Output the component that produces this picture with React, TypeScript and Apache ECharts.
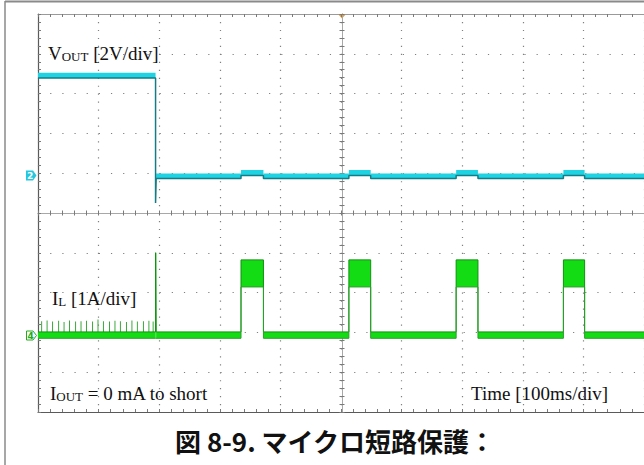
import React, { useEffect, useRef } from "react";
import * as echarts from "echarts";

// Time axis: 100 ms/div, 10 divisions
const timeTicksMs = [0, 100, 200, 300, 400, 500, 600, 700, 800, 900, 1000];

// VOUT (CH2, 2 V/div) envelope: breakpoints in ms, upper / lower edge in volts
const voutT = [0, 194, 194, 195, 335, 335, 372, 372, 513, 513, 549, 549, 690, 690, 726, 726, 867, 867, 902, 902, 1000];
const voutHi = [5.17, 5.17, -1.38, 0.1, 0.1, 0.28, 0.28, 0.1, 0.1, 0.28, 0.28, 0.1, 0.1, 0.28, 0.28, 0.1, 0.1, 0.28, 0.28, 0.1, 0.1];
const voutLo = [4.9, 4.9, -1.38, -0.15, -0.15, 0.0, 0.0, -0.15, -0.15, 0.0, 0.0, -0.15, -0.15, 0.0, 0.0, -0.15, -0.15, 0.0, 0.0, -0.15, -0.15];

// IL (CH4, 1 A/div) envelope: breakpoints in ms, upper / lower edge in amps
const ilT = [0, 194, 194, 195, 335, 335, 372, 372, 513, 513, 549, 549, 690, 690, 726, 726, 867, 867, 902, 902, 1000];
const ilHi = [0.09, 0.09, 2.08, 0.09, 0.09, 1.9, 1.9, 0.09, 0.09, 1.9, 1.9, 0.09, 0.09, 1.9, 1.9, 0.09, 0.09, 1.9, 1.9, 0.09, 0.09];
const ilLo = [-0.07, -0.07, -0.07, -0.07, -0.07, 1.22, 1.22, -0.07, -0.07, 1.22, 1.22, -0.07, -0.07, 1.22, 1.22, -0.07, -0.07, 1.22, 1.22, -0.07, -0.07];

// IL switching spikes before the short (ms, A)
const ilSpikeT = [6, 15, 24, 34, 43, 52, 62, 71, 80, 90, 99, 108, 118, 127, 136, 146, 155, 164, 174, 183, 190];
const ilSpikeA = [0.36, 0.38, 0.35, 0.37, 0.34, 0.38, 0.35, 0.36, 0.37, 0.35, 0.4, 0.36, 0.35, 0.37, 0.36, 0.34, 0.38, 0.35, 0.36, 0.37, 0.35];

// Channel scaling
const voutRange = [-11.88, 8.12];
const ilRange = [-1.922, 8.078];
const divRange = [-5, 5];

const texts = {
  vout: ["V", "OUT", " [2V/div]"],
  il: ["I", "L", " [1A/div]"],
  iout: ["I", "OUT", " = 0 mA to short"],
  time: "Time [100ms/div]",
  caption: "図 8-9. マイクロ短路保護：",
};

const SERIF = "'Liberation Serif', 'Times New Roman', serif";

// band rectangles [tStart, tEnd, lo, hi] built from the breakpoint arrays
function bands(t: number[], lo: number[], hi: number[]) {
  const out: number[][] = [];
  for (let i = 0; i < t.length - 1; i++) {
    if (t[i + 1] > t[i]) out.push([t[i], t[i + 1], lo[i], hi[i]]);
  }
  return out;
}

function richLabel(x: number, y: number, parts: string[], subDrop: number) {
  return {
    type: "text",
    x,
    y,
    silent: true,
    z: 100,
    style: {
      text: `{a|${parts[0]}}{b|${parts[1]}}{a|${parts[2]}}`,
      align: "left",
      verticalAlign: "bottom",
      rich: {
        a: { fontFamily: SERIF, fontSize: 19, fill: "#111", verticalAlign: "bottom" },
        b: {
          fontFamily: SERIF,
          fontSize: 13,
          fill: "#111",
          verticalAlign: "bottom",
          lineHeight: 13 - subDrop * 2,
        },
      },
    },
  };
}

function bandSeries(name: string, yAxisIndex: number, data: number[][], fill: string) {
  return {
    type: "custom",
    name,
    xAxisIndex: 0,
    yAxisIndex,
    silent: true,
    z: 3,
    encode: { x: [0, 1], y: [2, 3] },
    data,
    renderItem: (_params: any, api: any) => {
      const p0 = api.coord([api.value(0), api.value(3)]);
      const p1 = api.coord([api.value(1), api.value(2)]);
      return {
        type: "rect",
        shape: { x: p0[0], y: p0[1], width: Math.max(p1[0] - p0[0], 0.8), height: p1[1] - p0[1] },
        style: { fill },
      };
    },
  };
}

export default function App() {
  const ref = useRef<HTMLDivElement>(null);
  useEffect(() => {
    if (!ref.current) return;
    const chart = echarts.init(ref.current, undefined, { renderer: "svg" });

    const tickGray = "#7a7a7a";
    const dotGray = "#808080";
    const centerAxisX = (inside: boolean) => ({
      type: "value",
      min: timeTicksMs[0],
      max: timeTicksMs[timeTicksMs.length - 1],
      interval: 100,
      position: "bottom",
      offset: -199,
      axisLine: { show: true, onZero: false, lineStyle: { color: "#a8a8a8", width: 1 } },
      axisTick: { show: true, inside, length: 2.5, lineStyle: { color: tickGray } },
      minorTick: { show: true, splitNumber: 5, length: 2.5, lineStyle: { color: tickGray } },
      axisLabel: { show: false },
      splitLine: { show: false },
    });
    const centerAxisY = (inside: boolean) => ({
      type: "value",
      min: divRange[0],
      max: divRange[1],
      interval: 1,
      position: "left",
      offset: -304,
      axisLine: { show: true, onZero: false, lineStyle: { color: "#a8a8a8", width: 1 } },
      axisTick: { show: true, inside, length: 2.5, lineStyle: { color: tickGray } },
      minorTick: { show: true, splitNumber: 5, length: 2.5, lineStyle: { color: tickGray } },
      axisLabel: { show: false },
      splitLine: { show: false },
    });

    const option: any = {
      animation: false,
      backgroundColor: "#ffffff",
      grid: { left: 38, top: 14, width: 608, height: 398, containLabel: false, show: false },
      xAxis: [
        {
          type: "value",
          min: timeTicksMs[0],
          max: timeTicksMs[timeTicksMs.length - 1],
          interval: 100,
          position: "bottom",
          axisLine: { show: true, onZero: false, lineStyle: { color: "#5a5a5a", width: 1.2 } },
          axisTick: { show: true, inside: true, length: 3, lineStyle: { color: tickGray } },
          minorTick: { show: true, splitNumber: 5, length: 3, lineStyle: { color: tickGray } },
          axisLabel: { show: false },
          splitLine: { show: true, lineStyle: { color: dotGray, width: 1.2, type: [1.2, 6.76] } },
        },
        {
          type: "value",
          min: timeTicksMs[0],
          max: timeTicksMs[timeTicksMs.length - 1],
          interval: 100,
          position: "top",
          axisLine: { show: true, onZero: false, lineStyle: { color: "#9a9a9a", width: 1 } },
          axisTick: { show: true, inside: true, length: 3, lineStyle: { color: tickGray } },
          minorTick: { show: true, splitNumber: 5, length: 3, lineStyle: { color: tickGray } },
          axisLabel: { show: false },
          splitLine: { show: false },
        },
        centerAxisX(true),
        centerAxisX(false),
      ],
      yAxis: [
        {
          type: "value",
          min: divRange[0],
          max: divRange[1],
          interval: 1,
          position: "left",
          axisLine: { show: true, onZero: false, lineStyle: { color: "#5a5a5a", width: 1.2 } },
          axisTick: { show: true, inside: true, length: 3, lineStyle: { color: tickGray } },
          minorTick: { show: true, splitNumber: 5, length: 3, lineStyle: { color: tickGray } },
          axisLabel: { show: false },
          splitLine: { show: true, lineStyle: { color: dotGray, width: 1.2, type: [1.2, 10.96] } },
        },
        centerAxisY(true),
        centerAxisY(false),
        { type: "value", show: false, min: voutRange[0], max: voutRange[1], splitLine: { show: false } },
        { type: "value", show: false, min: ilRange[0], max: ilRange[1], splitLine: { show: false } },
      ],
      series: [
        bandSeries("VOUT band", 3, bands(voutT, voutLo, voutHi), "#1fd3e2"),
        {
          type: "line",
          name: "VOUT",
          xAxisIndex: 0,
          yAxisIndex: 3,
          data: voutT.map((t, i) => [t, voutLo[i]]),
          symbol: "none",
          silent: true,
          z: 4,
          lineStyle: { color: "#137c84", width: 1.5 },
        },
        bandSeries("IL band", 4, bands(ilT, ilLo, ilHi), "#14dc14"),
        {
          type: "line",
          name: "IL upper",
          xAxisIndex: 0,
          yAxisIndex: 4,
          data: ilT.map((t, i) => [t, ilHi[i]]),
          symbol: "none",
          silent: true,
          z: 4,
          lineStyle: { color: "#119011", width: 1 },
        },
        {
          type: "line",
          name: "IL lower",
          xAxisIndex: 0,
          yAxisIndex: 4,
          data: ilT.map((t, i) => [t, ilLo[i]]),
          symbol: "none",
          silent: true,
          z: 4,
          lineStyle: { color: "#2a9e2a", width: 1 },
        },
        {
          type: "bar",
          name: "IL spikes",
          xAxisIndex: 0,
          yAxisIndex: 4,
          data: ilSpikeT.map((t, i) => [t, ilSpikeA[i]]),
          barWidth: 1,
          silent: true,
          z: 2,
          itemStyle: { color: "#3aa83a" },
        },
      ],
      graphic: [
        // outer frame
        { type: "line", silent: true, shape: { x1: 5, y1: 1.5, x2: 644, y2: 1.5 }, style: { stroke: "#8a8a8a", lineWidth: 2 } },
        { type: "line", silent: true, shape: { x1: 5, y1: 1, x2: 5, y2: 465 }, style: { stroke: "#8a8a8a", lineWidth: 1.5 } },
        // trigger marker
        { type: "polygon", silent: true, shape: { points: [[338, 14], [346, 14], [342, 18.5]] }, style: { fill: "#f29a1a" } },
        // CH2 marker
        {
          type: "polygon",
          silent: true,
          shape: { points: [[26, 170.5], [33, 170.5], [36.5, 175.5], [33, 180.5], [26, 180.5]] },
          style: { fill: "#22c8e0" },
        },
        {
          type: "text",
          silent: true,
          x: 30,
          y: 175.8,
          style: { text: "2", fill: "#ffffff", fontSize: 9, fontWeight: "bold", fontFamily: "DejaVu Sans", align: "center", verticalAlign: "middle" },
        },
        // CH4 marker
        {
          type: "polygon",
          silent: true,
          shape: { points: [[26.5, 331], [33, 331], [36.5, 335.5], [33, 340], [26.5, 340]] },
          style: { fill: "#ffffff", stroke: "#22aa22", lineWidth: 1 },
        },
        {
          type: "text",
          silent: true,
          x: 30.5,
          y: 335.8,
          style: { text: "4", fill: "#22aa22", fontSize: 9, fontWeight: "bold", fontFamily: "DejaVu Sans", align: "center", verticalAlign: "middle" },
        },
        richLabel(48, 63, texts.vout, 0),
        richLabel(52, 308, texts.il, 1),
        richLabel(50, 403, texts.iout, 1),
        {
          type: "text",
          silent: true,
          x: 471,
          y: 403,
          style: { text: texts.time, fill: "#111", fontSize: 19, fontFamily: SERIF, align: "left", verticalAlign: "bottom" },
        },
        {
          type: "text",
          silent: true,
          x: 175,
          y: 440,
          style: {
            text: texts.caption,
            fill: "#111",
            fontSize: 26,
            fontWeight: "bold",
            fontFamily: "'Noto Sans CJK JP', 'Noto Sans CJK SC', sans-serif",
            align: "left",
            verticalAlign: "middle",
          },
        },
      ],
    };

    chart.setOption(option);
    return () => chart.dispose();
  }, []);

  return (
    <div
      ref={ref}
      style={{ position: "absolute", left: 0, top: 0, width: 644, height: 465, background: "#fff" }}
    />
  );
}
